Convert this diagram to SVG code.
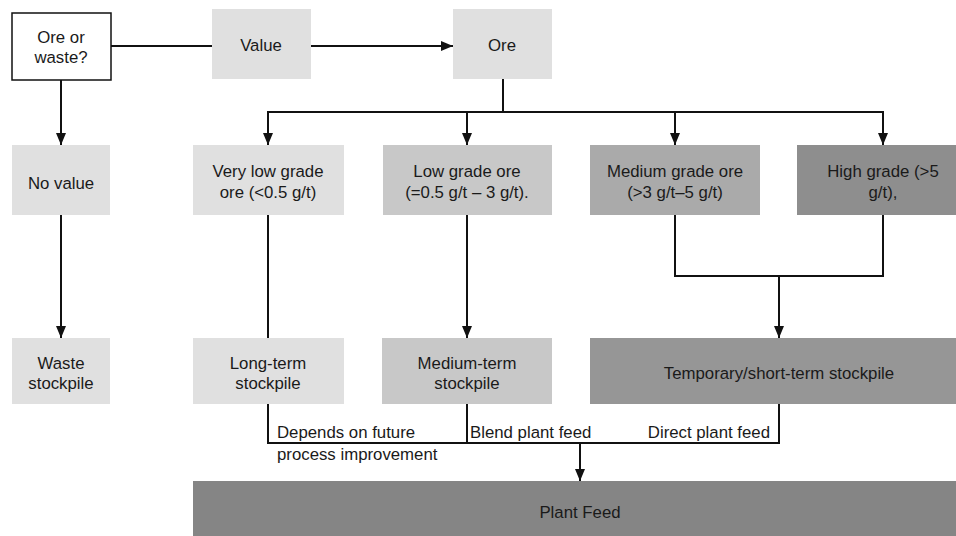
<svg xmlns="http://www.w3.org/2000/svg" width="956" height="536" viewBox="0 0 956 536">
  <defs>
    <marker id="arrow" viewBox="0 0 12 10" refX="12" refY="5" markerWidth="12" markerHeight="10" markerUnits="userSpaceOnUse" orient="auto">
      <path d="M0,0 L12,5 L0,10 z" fill="#111"/>
    </marker>
    <style>
      text { font-family: "Liberation Sans", Arial, sans-serif; font-size: 16.8px; fill: #1a1a1a; text-anchor: middle; }
      .lbl { text-anchor: start; }
      .lbl-end { text-anchor: end; }
      .c { fill: none; stroke: #111; stroke-width: 2; }
      .a { marker-end: url(#arrow); }
      .g1 { fill: #e0e0e0; }
      .g2 { fill: #c8c8c8; }
      .g3 { fill: #aaaaaa; }
      .g4 { fill: #8e8e8e; }
      .g5 { fill: #969696; }
      .g6 { fill: #858585; }
    </style>
  </defs>

  <rect width="956" height="536" fill="#ffffff"/>

  <!-- connectors -->
  <g id="connectors">
    <path class="c" d="M111,46 H212"/>
    <path class="c a" d="M311,46 H453"/>
    <path class="c a" d="M61,80 V145"/>
    <path class="c" d="M503,79 V112"/>
    <path class="c" d="M267,112 H884"/>
    <path class="c a" d="M268,112 V145"/>
    <path class="c a" d="M467,112 V145"/>
    <path class="c a" d="M675,112 V145"/>
    <path class="c a" d="M883,112 V145"/>
    <path class="c a" d="M61,215 V338"/>
    <path class="c" d="M268,215 V338"/>
    <path class="c a" d="M467,215 V338"/>
    <path class="c" d="M675,215 V276 H883 V215"/>
    <path class="c a" d="M779,276 V338"/>
    <path class="c" d="M268,404 V443 H779 V404"/>
    <path class="c" d="M467,404 V443"/>
    <path class="c a" d="M580,443 V481"/>
    <text class="lbl" x="277" y="438">Depends on future</text>
    <text class="lbl" x="277" y="460">process improvement</text>
    <text class="lbl" x="470" y="438">Blend plant feed</text>
    <text class="lbl-end" x="770" y="438">Direct plant feed</text>
  </g>

  <!-- top row -->
  <g id="ore-or-waste">
    <rect x="12" y="13" width="99" height="67" fill="#ffffff" stroke="#111" stroke-width="1.5"/>
    <text x="61" y="43">Ore or</text>
    <text x="61" y="63">waste?</text>
  </g>
  <g id="value">
    <rect class="g1" x="212" y="9" width="99" height="70"/>
    <text x="261" y="51">Value</text>
  </g>
  <g id="ore">
    <rect class="g1" x="453" y="9" width="99" height="70"/>
    <text x="502" y="51">Ore</text>
  </g>

  <!-- grade row -->
  <g id="no-value">
    <rect class="g1" x="12" y="145" width="98" height="70"/>
    <text x="61" y="189">No value</text>
  </g>
  <g id="very-low-grade">
    <rect class="g1" x="193" y="145" width="151" height="70"/>
    <text x="268" y="177">Very low grade</text>
    <text x="268" y="198">ore (&lt;0.5 g/t)</text>
  </g>
  <g id="low-grade">
    <rect class="g2" x="383" y="145" width="169" height="70"/>
    <text x="467" y="177">Low grade ore</text>
    <text x="467" y="198">(=0.5 g/t – 3 g/t).</text>
  </g>
  <g id="medium-grade">
    <rect class="g3" x="590" y="145" width="170" height="70"/>
    <text x="675" y="177">Medium grade ore</text>
    <text x="675" y="198">(&gt;3 g/t–5 g/t)</text>
  </g>
  <g id="high-grade">
    <rect class="g4" x="797" y="145" width="172" height="70"/>
    <text x="883" y="177">High grade (&gt;5</text>
    <text x="883" y="198">g/t),</text>
  </g>

  <!-- stockpile row -->
  <g id="waste-stockpile">
    <rect class="g1" x="12" y="338" width="98" height="66"/>
    <text x="61" y="369">Waste</text>
    <text x="61" y="389">stockpile</text>
  </g>
  <g id="long-term-stockpile">
    <rect class="g1" x="193" y="338" width="151" height="66"/>
    <text x="268" y="369">Long-term</text>
    <text x="268" y="389">stockpile</text>
  </g>
  <g id="medium-term-stockpile">
    <rect class="g2" x="382" y="338" width="170" height="66"/>
    <text x="467" y="369">Medium-term</text>
    <text x="467" y="389">stockpile</text>
  </g>
  <g id="short-term-stockpile">
    <rect class="g5" x="590" y="338" width="378" height="66"/>
    <text x="779" y="379">Temporary/short-term stockpile</text>
  </g>

  <!-- plant feed -->
  <g id="plant-feed">
    <rect class="g6" x="193" y="481" width="774" height="60"/>
    <text x="580" y="518">Plant Feed</text>
  </g>
</svg>
